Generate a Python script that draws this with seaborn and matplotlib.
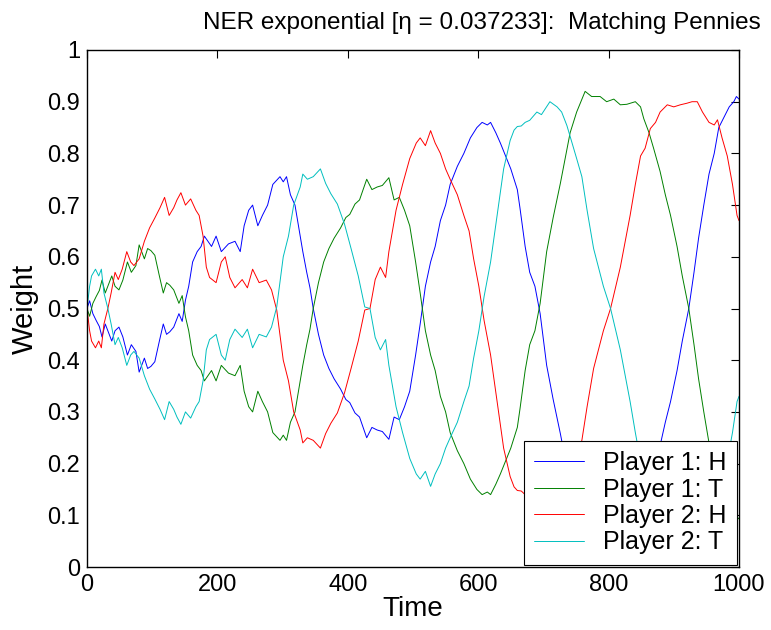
import matplotlib
matplotlib.use("Agg")
import matplotlib.pyplot as plt
import seaborn as sns
import pandas as pd

# ---- data ----
t1 = [0, 4, 9, 14, 19, 23, 28, 34, 38, 43, 49, 55, 62, 68, 75, 80, 88, 93, 98, 104,
      111, 117, 122, 127, 133, 141, 146, 151, 156, 162, 169, 175, 180, 191, 198, 206,
      217, 227, 235, 241, 248, 254, 262, 269, 277, 285, 296, 301, 306, 312, 319, 327,
      331, 337, 342, 347, 355, 363, 371, 379, 389, 397, 403, 411, 418, 429, 437, 445,
      453, 463, 471, 479, 487, 495, 504, 511, 519, 527, 534, 542, 550, 557, 568, 578,
      588, 598, 606, 614, 619, 627, 634, 642, 650, 660, 664, 672, 679, 687, 695, 705,
      715, 726, 741, 751, 764, 774, 787, 797, 808, 818, 828, 841, 849, 854, 862, 869,
      879, 887, 895, 905, 913, 923, 931, 938, 946, 954, 962, 969, 977, 985, 992, 996, 1000]

p1_h = [0.50, 0.515, 0.49, 0.477, 0.465, 0.445, 0.47, 0.45, 0.437, 0.457, 0.464, 0.445,
        0.41, 0.43, 0.417, 0.377, 0.404, 0.384, 0.388, 0.397, 0.437, 0.47, 0.45, 0.455,
        0.464, 0.49, 0.475, 0.516, 0.543, 0.59, 0.61, 0.62, 0.64, 0.62, 0.64, 0.61, 0.625,
        0.63, 0.61, 0.66, 0.69, 0.70, 0.66, 0.68, 0.70, 0.74, 0.755, 0.745, 0.755, 0.72,
        0.70, 0.64, 0.61, 0.57, 0.54, 0.50, 0.45, 0.41, 0.384, 0.364, 0.344, 0.324, 0.318,
        0.298, 0.29, 0.25, 0.27, 0.265, 0.262, 0.247, 0.29, 0.285, 0.31, 0.34, 0.41, 0.47,
        0.543, 0.59, 0.62, 0.67, 0.70, 0.74, 0.775, 0.80, 0.83, 0.85, 0.86, 0.855, 0.86,
        0.84, 0.82, 0.795, 0.77, 0.73, 0.695, 0.62, 0.57, 0.543, 0.49, 0.39, 0.324, 0.258,
        0.16, 0.12, 0.08, 0.09, 0.09, 0.10, 0.095, 0.106, 0.105, 0.10, 0.11, 0.133, 0.16,
        0.19, 0.235, 0.28, 0.32, 0.38, 0.437, 0.50, 0.57, 0.636, 0.70, 0.76, 0.80, 0.85,
        0.87, 0.89, 0.90, 0.91, 0.905]

p1_t = [0.50, 0.485, 0.51, 0.523, 0.535, 0.555, 0.53, 0.55, 0.563, 0.543, 0.536, 0.555,
        0.59, 0.57, 0.583, 0.623, 0.596, 0.616, 0.612, 0.603, 0.563, 0.53, 0.55, 0.545,
        0.536, 0.51, 0.525, 0.484, 0.457, 0.41, 0.39, 0.38, 0.36, 0.38, 0.36, 0.39, 0.375,
        0.37, 0.39, 0.34, 0.31, 0.30, 0.34, 0.32, 0.30, 0.26, 0.245, 0.255, 0.245, 0.28,
        0.30, 0.36, 0.39, 0.43, 0.46, 0.50, 0.55, 0.59, 0.616, 0.636, 0.656, 0.676, 0.682,
        0.702, 0.71, 0.75, 0.73, 0.735, 0.738, 0.753, 0.71, 0.715, 0.69, 0.66, 0.59, 0.53,
        0.457, 0.41, 0.38, 0.33, 0.30, 0.26, 0.225, 0.20, 0.17, 0.15, 0.14, 0.145, 0.14,
        0.16, 0.18, 0.205, 0.23, 0.27, 0.305, 0.38, 0.43, 0.457, 0.51, 0.61, 0.676, 0.742,
        0.84, 0.88, 0.92, 0.91, 0.91, 0.90, 0.905, 0.894, 0.895, 0.90, 0.89, 0.867, 0.84,
        0.81, 0.765, 0.72, 0.68, 0.62, 0.563, 0.50, 0.43, 0.364, 0.30, 0.24, 0.20, 0.15,
        0.13, 0.11, 0.10, 0.09, 0.095]

t2 = [0, 4, 7, 13, 18, 22, 26, 32, 37, 43, 48, 54, 61, 67, 72, 80, 88, 96, 104, 112,
      119, 126, 133, 138, 144, 151, 159, 167, 172, 178, 183, 188, 198, 206, 212, 219,
      227, 238, 246, 254, 264, 275, 283, 291, 301, 309, 317, 327, 331, 338, 347, 358,
      366, 374, 384, 395, 405, 416, 426, 434, 442, 450, 458, 463, 474, 484, 495, 505,
      511, 519, 527, 534, 542, 550, 557, 568, 578, 586, 593, 601, 609, 619, 629, 639,
      649, 655, 660, 666, 672, 679, 690, 697, 710, 721, 728, 736, 744, 751, 759, 767,
      777, 792, 803, 818, 833, 841, 849, 856, 864, 872, 879, 890, 900, 910, 920, 928,
      936, 944, 954, 962, 967, 974, 982, 990, 997, 1000]

p2_h = [0.50, 0.457, 0.437, 0.424, 0.437, 0.424, 0.47, 0.50, 0.53, 0.57, 0.556, 0.576,
        0.61, 0.59, 0.583, 0.596, 0.63, 0.656, 0.675, 0.695, 0.715, 0.68, 0.695, 0.71,
        0.724, 0.70, 0.712, 0.69, 0.68, 0.64, 0.58, 0.56, 0.55, 0.59, 0.60, 0.56, 0.54,
        0.556, 0.54, 0.576, 0.55, 0.555, 0.536, 0.497, 0.40, 0.36, 0.30, 0.265, 0.24, 0.25,
        0.245, 0.23, 0.258, 0.278, 0.298, 0.337, 0.384, 0.437, 0.497, 0.50, 0.556, 0.58,
        0.56, 0.61, 0.69, 0.74, 0.79, 0.82, 0.83, 0.815, 0.844, 0.82, 0.80, 0.77, 0.75,
        0.72, 0.68, 0.65, 0.596, 0.543, 0.477, 0.41, 0.32, 0.23, 0.175, 0.155, 0.148,
        0.147, 0.14, 0.136, 0.12, 0.125, 0.10, 0.11, 0.12, 0.146, 0.18, 0.21, 0.245, 0.31,
        0.384, 0.457, 0.50, 0.58, 0.68, 0.74, 0.795, 0.81, 0.848, 0.86, 0.88, 0.894, 0.89,
        0.894, 0.897, 0.90, 0.90, 0.88, 0.86, 0.855, 0.865, 0.83, 0.795, 0.74, 0.68, 0.67]

p2_t = [0.50, 0.543, 0.563, 0.576, 0.563, 0.576, 0.53, 0.50, 0.47, 0.43, 0.444, 0.424,
        0.39, 0.41, 0.417, 0.404, 0.37, 0.344, 0.325, 0.305, 0.285, 0.32, 0.305, 0.29,
        0.276, 0.30, 0.288, 0.31, 0.32, 0.36, 0.42, 0.44, 0.45, 0.41, 0.40, 0.44, 0.46,
        0.444, 0.46, 0.424, 0.45, 0.445, 0.464, 0.503, 0.60, 0.64, 0.70, 0.735, 0.76, 0.75,
        0.755, 0.77, 0.742, 0.722, 0.702, 0.663, 0.616, 0.563, 0.503, 0.50, 0.444, 0.42,
        0.44, 0.39, 0.31, 0.26, 0.21, 0.18, 0.17, 0.185, 0.156, 0.18, 0.20, 0.23, 0.25,
        0.28, 0.32, 0.35, 0.404, 0.457, 0.523, 0.59, 0.68, 0.77, 0.825, 0.845, 0.852,
        0.853, 0.86, 0.864, 0.88, 0.875, 0.90, 0.89, 0.88, 0.854, 0.82, 0.79, 0.755, 0.69,
        0.616, 0.543, 0.50, 0.42, 0.32, 0.26, 0.205, 0.19, 0.152, 0.14, 0.12, 0.106, 0.11,
        0.106, 0.103, 0.10, 0.10, 0.12, 0.14, 0.145, 0.135, 0.17, 0.205, 0.26, 0.32, 0.33]

labels = ["Player 1: H", "Player 1: T", "Player 2: H", "Player 2: T"]
colors = ["#0000ff", "#008000", "#ff0000", "#00bfbf"]
x_ticks = [0, 200, 400, 600, 800, 1000]
x_ticklabels = ["0", "200", "400", "600", "800", "1000"]
y_ticks = [0, 0.1, 0.2, 0.3, 0.4, 0.5, 0.6, 0.7, 0.8, 0.9, 1.0]
y_ticklabels = ["0", "0.1", "0.2", "0.3", "0.4", "0.5", "0.6", "0.7", "0.8", "0.9", "1"]

frames = [
    pd.DataFrame({"Time": t1, "Weight": p1_h, "series": labels[0]}),
    pd.DataFrame({"Time": t1, "Weight": p1_t, "series": labels[1]}),
    pd.DataFrame({"Time": t2, "Weight": p2_h, "series": labels[2]}),
    pd.DataFrame({"Time": t2, "Weight": p2_t, "series": labels[3]}),
]
df = pd.concat(frames, ignore_index=True)

sns.set_style("white")
plt.rcParams["font.family"] = ["Liberation Sans", "DejaVu Sans"]
plt.rcParams["text.color"] = "black"
plt.rcParams["axes.labelcolor"] = "black"
plt.rcParams["xtick.color"] = "black"
plt.rcParams["ytick.color"] = "black"

fig = plt.figure(figsize=(7.71, 6.30), dpi=100)
ax = fig.add_axes([87 / 771, 1 - 567 / 630, (739 - 87) / 771, (567 - 50) / 630])

sns.lineplot(data=df, x="Time", y="Weight", hue="series", hue_order=labels,
             palette=dict(zip(labels, colors)), linewidth=0.7, ax=ax,
             estimator=None, sort=False)

ax.set_xlim(0, 1000)
ax.set_ylim(0, 1)
ax.set_xticks(x_ticks)
ax.set_xticklabels(x_ticklabels)
ax.set_yticks(y_ticks)
ax.set_yticklabels(y_ticklabels)
ax.tick_params(direction="in", length=6, width=0.8, top=True, right=True,
               labelsize=17, pad=5, colors="black")
for s in ax.spines.values():
    s.set_visible(True)
    s.set_color("black")
    s.set_linewidth(1.0)

ax.set_xlabel("Time", fontsize=20, labelpad=0, color="black")
ax.set_ylabel("Weight", fontsize=21, labelpad=6, color="black")
ax.set_title("NER exponential [\u03b7 = 0.037233]:  Matching Pennies", fontsize=17.5,
             pad=15, x=(482 - 87) / 652, color="black")

leg = ax.legend(loc="lower right", fontsize=18, frameon=True, fancybox=False,
                framealpha=1, edgecolor="black", borderaxespad=0.1,
                handlelength=2.0, handletextpad=0.75, borderpad=0.4,
                labelspacing=0.1)
leg.get_frame().set_linewidth(0.8)
for txt in leg.get_texts():
    txt.set_color("black")

fig.savefig("out.png", dpi=100, facecolor="white")
